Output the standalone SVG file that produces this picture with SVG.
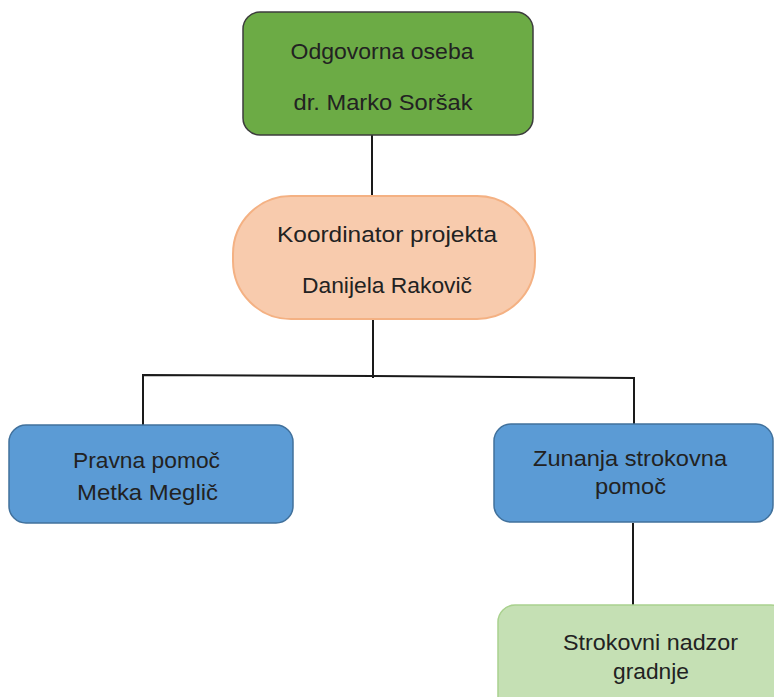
<svg xmlns="http://www.w3.org/2000/svg" width="774" height="697" viewBox="0 0 774 697">
<style>
text{font-family:"Liberation Sans",Arial,sans-serif;font-size:22px;fill:#222;text-anchor:middle}
.conn{stroke:#1a1a1a;stroke-width:2;fill:none}
.green{fill:#6cab45;stroke:#3c3c3c;stroke-width:1.5}
.peach{fill:#f8cbad;stroke:#f4b183;stroke-width:2}
.blue{fill:#5b9bd5;stroke:#41719c;stroke-width:1.5}
.lgreen{fill:#c5e0b4;stroke:#a9d18e;stroke-width:1.5}
</style>
<rect width="774" height="697" fill="#fff"/>
<g id="connectors">
<line class="conn" x1="372" y1="135" x2="372" y2="196"/>
<line class="conn" x1="373" y1="319" x2="373" y2="378"/>
<polyline class="conn" points="143,425 143,375 373,376 634,378 634,424"/>
<line class="conn" x1="633" y1="523" x2="633" y2="605"/>
</g>
<g id="odgovorna">
<rect class="green" x="243" y="12" width="290" height="123" rx="17"/>
<text x="382" y="59" textLength="183" lengthAdjust="spacingAndGlyphs">Odgovorna oseba</text>
<text x="383" y="110" textLength="179" lengthAdjust="spacingAndGlyphs">dr. Marko Soršak</text>
</g>
<g id="koordinator">
<rect class="peach" x="233" y="196" width="302" height="123" rx="58"/>
<text x="387" y="242" textLength="220" lengthAdjust="spacingAndGlyphs">Koordinator projekta</text>
<text x="387" y="293" textLength="170" lengthAdjust="spacingAndGlyphs">Danijela Rakovič</text>
</g>
<g id="pravna">
<rect class="blue" x="9" y="425" width="284" height="98" rx="17"/>
<text x="146.5" y="468" textLength="147" lengthAdjust="spacingAndGlyphs">Pravna pomoč</text>
<text x="147.5" y="500" textLength="141" lengthAdjust="spacingAndGlyphs">Metka Meglič</text>
</g>
<g id="zunanja">
<rect class="blue" x="494" y="424" width="279" height="98" rx="17"/>
<text x="630" y="466" textLength="194" lengthAdjust="spacingAndGlyphs">Zunanja strokovna</text>
<text x="630.5" y="494" textLength="71" lengthAdjust="spacingAndGlyphs">pomoč</text>
</g>
<g id="nadzor">
<rect class="lgreen" x="498" y="605" width="290" height="110" rx="17"/>
<text x="650.5" y="650" textLength="175" lengthAdjust="spacingAndGlyphs">Strokovni nadzor</text>
<text x="651" y="679" textLength="76" lengthAdjust="spacingAndGlyphs">gradnje</text>
</g>
</svg>
